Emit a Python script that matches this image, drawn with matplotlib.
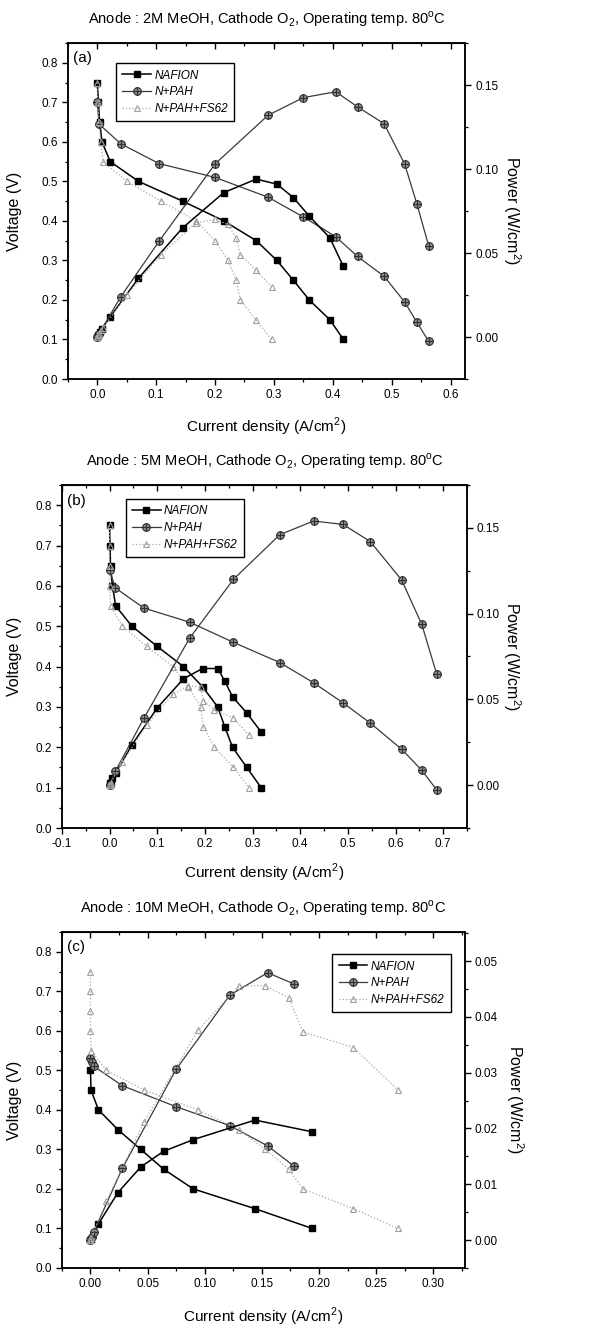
#!/usr/bin/env python3

import numpy as np
import matplotlib
matplotlib.use("Agg")
import matplotlib.pyplot as plt
from matplotlib.path import Path
from matplotlib.ticker import MultipleLocator, FormatStrFormatter

plt.rcParams['font.family'] = ['Liberation Sans', 'DejaVu Sans']
plt.rcParams['mathtext.fontset'] = 'custom'
plt.rcParams['mathtext.rm'] = 'Liberation Sans'

labels = ["NAFION", "N+PAH", "N+PAH+FS62"]

# (a) 2M MeOH
a_naf_i = [0.000, 0.002, 0.004, 0.008, 0.022, 0.070, 0.145, 0.215, 0.270, 0.305, 0.333, 0.360, 0.395, 0.418]
a_naf_v = [0.75, 0.70, 0.65, 0.60, 0.55, 0.50, 0.45, 0.40, 0.35, 0.30, 0.25, 0.20, 0.15, 0.10]
a_naf_p = [0.000, 0.001, 0.003, 0.005, 0.012, 0.035, 0.065, 0.086, 0.094, 0.091, 0.083, 0.072, 0.059, 0.042]
a_pah_i = [0.000, 0.003, 0.040, 0.105, 0.200, 0.290, 0.350, 0.405, 0.442, 0.487, 0.522, 0.543, 0.563]
a_pah_v = [0.70, 0.645, 0.595, 0.545, 0.51, 0.46, 0.41, 0.36, 0.31, 0.26, 0.195, 0.143, 0.095]
a_pah_p = [0.000, 0.002, 0.024, 0.057, 0.103, 0.132, 0.1425, 0.146, 0.137, 0.127, 0.103, 0.079, 0.054]
a_fs_i = [0.000, 0.001, 0.003, 0.006, 0.010, 0.050, 0.108, 0.168, 0.200, 0.222, 0.236, 0.243, 0.269, 0.296]
a_fs_v = [0.75, 0.70, 0.65, 0.60, 0.55, 0.50, 0.45, 0.40, 0.35, 0.30, 0.25, 0.20, 0.15, 0.10]
a_fs_p = [0.000, 0.001, 0.002, 0.004, 0.0055, 0.025, 0.049, 0.068, 0.070, 0.067, 0.059, 0.049, 0.040, 0.030]

# (b) 5M MeOH
b_naf_i = [0.000, 0.001, 0.002, 0.006, 0.013, 0.047, 0.100, 0.155, 0.195, 0.227, 0.242, 0.258, 0.288, 0.318]
b_naf_v = [0.75, 0.70, 0.65, 0.60, 0.55, 0.50, 0.45, 0.40, 0.35, 0.30, 0.25, 0.20, 0.15, 0.10]
b_naf_p = [0.000, 0.001, 0.001, 0.004, 0.007, 0.0235, 0.045, 0.062, 0.068, 0.068, 0.0605, 0.0515, 0.042, 0.031]
b_pah_i = [0.000, 0.012, 0.072, 0.168, 0.260, 0.357, 0.428, 0.490, 0.547, 0.613, 0.655, 0.686]
b_pah_v = [0.64, 0.595, 0.545, 0.51, 0.46, 0.41, 0.36, 0.31, 0.26, 0.195, 0.143, 0.095]
b_pah_p = [0.000, 0.008, 0.039, 0.0857, 0.120, 0.146, 0.154, 0.152, 0.142, 0.1195, 0.0937, 0.065]
b_fs_i = [0.000, 0.000, 0.000, 0.000, 0.002, 0.027, 0.078, 0.133, 0.165, 0.191, 0.197, 0.220, 0.260, 0.293]
b_fs_v = [0.75, 0.70, 0.65, 0.60, 0.55, 0.50, 0.45, 0.40, 0.35, 0.30, 0.25, 0.20, 0.15, 0.10]
b_fs_p = [0.000, 0.000, 0.000, 0.000, 0.001, 0.0135, 0.035, 0.053, 0.058, 0.057, 0.049, 0.044, 0.039, 0.029]

# (c) 10M MeOH
c_naf_i = [0.000, 0.0005, 0.007, 0.024, 0.044, 0.064, 0.090, 0.144, 0.194]
c_naf_v = [0.50, 0.45, 0.40, 0.35, 0.30, 0.25, 0.20, 0.15, 0.10]
c_naf_p = [0.000, 0.0002, 0.0029, 0.0085, 0.0131, 0.0159, 0.018, 0.0215, 0.0194]
c_pah_i = [0.000, 0.001, 0.003, 0.028, 0.075, 0.122, 0.155, 0.178]
c_pah_v = [0.53, 0.52, 0.51, 0.461, 0.408, 0.36, 0.309, 0.258]
c_pah_p = [0.000, 0.0005, 0.0015, 0.0129, 0.0306, 0.0439, 0.0479, 0.0459]
c_fs_i = [0.000, 0.000, 0.000, 0.000, 0.0005, 0.014, 0.047, 0.094, 0.130, 0.153, 0.1735, 0.186, 0.230, 0.269]
c_fs_v = [0.75, 0.70, 0.65, 0.60, 0.55, 0.50, 0.45, 0.40, 0.35, 0.30, 0.25, 0.20, 0.15, 0.10]
c_fs_p = [0.000, 0.000, 0.000, 0.000, 0.0003, 0.007, 0.0212, 0.0376, 0.0455, 0.0456, 0.0434, 0.0373, 0.0345, 0.0269]

# circle with a cross inside, like the Origin marker
circ = Path.unit_circle()
cross = Path([(-1, 0), (1, 0), (0, -1), (0, 1)],
             [Path.MOVETO, Path.LINETO, Path.MOVETO, Path.LINETO])
circ_cross = Path.make_compound_path(circ, cross)

styles = [
    dict(color='black', lw=1.1, ls='-', marker='s', ms=5, mfc='black', mec='black'),
    dict(color='#3a3a3a', lw=0.9, ls='-', marker=circ_cross, ms=5.5, mfc='#8c8c8c', mec='#303030', mew=0.8),
    dict(color='#a8a8a8', lw=0.9, ls=':', marker='^', ms=4, mfc='none', mec='#a0a0a0', mew=0.8),
]


def draw_panel(ax, series, title, letter, xlim, xmajor, xfmt, plim, pmajor, pfmt,
               legend_loc, legend_anchor, ylab_x, plab_x, xlab_y):
    ax2 = ax.twinx()
    handles = []
    for (cur, volt, pw), st, lab in zip(series, styles, labels):
        h, = ax.plot(cur, volt, label=lab, **st)
        ax2.plot(cur, pw, **st)
        handles.append(h)

    ax.set_xlim(*xlim)
    ax.set_ylim(0, 0.85)
    ax2.set_ylim(*plim)

    ax.xaxis.set_major_locator(MultipleLocator(xmajor))
    ax.xaxis.set_minor_locator(MultipleLocator(xmajor / 2))
    ax.xaxis.set_major_formatter(FormatStrFormatter(xfmt))
    ax.yaxis.set_major_locator(MultipleLocator(0.1))
    ax.yaxis.set_minor_locator(MultipleLocator(0.05))
    ax.yaxis.set_major_formatter(FormatStrFormatter('%.1f'))
    ax2.yaxis.set_major_locator(MultipleLocator(pmajor))
    ax2.yaxis.set_minor_locator(MultipleLocator(pmajor / 2))
    ax2.yaxis.set_major_formatter(FormatStrFormatter(pfmt))

    for a in (ax, ax2):
        a.tick_params(which='major', direction='out', length=4, width=1, labelsize=8.5, pad=3)
        a.tick_params(which='minor', direction='out', length=2.5, width=0.9)
        for sp in a.spines.values():
            sp.set_linewidth(1.1)
    top = ax.secondary_xaxis('top')
    top.xaxis.set_major_locator(MultipleLocator(xmajor))
    top.xaxis.set_minor_locator(MultipleLocator(xmajor / 2))
    top.tick_params(which='major', direction='in', length=4, width=1, labeltop=False)
    top.tick_params(which='minor', direction='in', length=2.5, width=0.9)

    ax.set_ylabel('Voltage (V)', fontsize=11.5, va='center')
    ax.yaxis.set_label_coords(ylab_x, 0.5)
    ax2.set_ylabel('Power (W/cm$^2$)', fontsize=11.5, rotation=-90, va='center')
    ax2.yaxis.set_label_coords(plab_x, 0.5)
    ax.set_xlabel('Current density (A/cm$^2$)', fontsize=11, va='center')
    ax.xaxis.set_label_coords(0.5, xlab_y)

    ax.text(0.5, 1.07, title, transform=ax.transAxes, ha='center', va='center', fontsize=10.5)
    ax.text(0.012, 0.975, letter, transform=ax.transAxes, ha='left', va='top', fontsize=11)

    leg = ax2.legend(handles, labels, loc=legend_loc, bbox_to_anchor=legend_anchor,
                     fancybox=False, edgecolor='black', framealpha=1, fontsize=8.5,
                     handlelength=2.4, borderpad=0.55, labelspacing=0.4, handletextpad=0.3)
    leg.get_frame().set_linewidth(1.0)
    for t in leg.get_texts():
        t.set_fontstyle('italic')


def main():
    fig = plt.figure(figsize=(5.95, 13.28), dpi=100)
    ax_a = fig.add_axes([0.114, 0.7146, 0.668, 0.253])
    ax_b = fig.add_axes([0.104, 0.3765, 0.681, 0.2583])
    ax_c = fig.add_axes([0.104, 0.0452, 0.677, 0.253])

    deg = '80$^{\\mathrm{o}}$C'
    draw_panel(ax_a,
               [(a_naf_i, a_naf_v, a_naf_p), (a_pah_i, a_pah_v, a_pah_p), (a_fs_i, a_fs_v, a_fs_p)],
               'Anode : 2M MeOH, Cathode O$_2$, Operating temp. ' + deg, '(a)',
               (-0.05, 0.625), 0.1, '%.1f', (-0.025, 0.175), 0.05, '%.2f',
               'upper left', (0.106, 0.958), -0.133, 1.118, -0.143)
    draw_panel(ax_b,
               [(b_naf_i, b_naf_v, b_naf_p), (b_pah_i, b_pah_v, b_pah_p), (b_fs_i, b_fs_v, b_fs_p)],
               'Anode : 5M MeOH, Cathode O$_2$, Operating temp. ' + deg, '(b)',
               (-0.1, 0.75), 0.1, '%.1f', (-0.025, 0.175), 0.05, '%.2f',
               'upper left', (0.143, 0.977), -0.116, 1.111, -0.131)
    draw_panel(ax_c,
               [(c_naf_i, c_naf_v, c_naf_p), (c_pah_i, c_pah_v, c_pah_p), (c_fs_i, c_fs_v, c_fs_p)],
               'Anode : 10M MeOH, Cathode O$_2$, Operating temp. ' + deg, '(c)',
               (-0.025, 0.3275), 0.05, '%.2f', (-0.005, 0.0552), 0.01, '%.2f',
               'upper right', (0.98, 0.952), -0.117, 1.124, -0.146)

    fig.savefig('out.png', dpi=100)


if __name__ == "__main__":
    main()
